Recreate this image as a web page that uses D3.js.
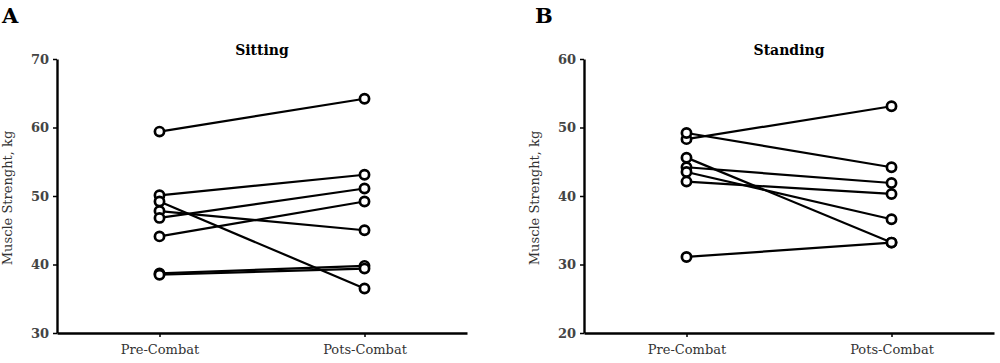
<!DOCTYPE html>
<html>
<head>
<meta charset="utf-8">
<script src="https://cdn.jsdelivr.net/npm/d3@7"></script>
<style>
  body { margin: 0; background: #fff; }
  text { font-family: "DejaVu Serif", serif; }
</style>
</head>
<body>
<div id="chart"></div>
<script>
var phases = ["Pre-Combat", "Pots-Combat"];

// sitting, one pair per subject [pre, post]
var sittingPre  = [59.4, 50.1, 49.2, 47.8, 46.8, 44.1, 38.7, 38.5];
var sittingPost = [64.2, 53.1, 36.5, 45.0, 51.1, 49.2, 39.8, 39.4];
var sittingTicks = [30, 40, 50, 60, 70];

// standing
var standingPre  = [48.3, 49.2, 45.6, 44.2, 43.5, 42.1, 31.1];
var standingPost = [53.1, 44.2, 33.2, 41.9, 36.6, 40.3, 33.2];
var standingTicks = [20, 30, 40, 50, 60];

var svg = d3.select("#chart")
  .append("svg")
    .attr("width", 1000)
    .attr("height", 363);

function draw_panel(opts) {
  var g = svg.append("g");

  var x = d3.scalePoint()
      .domain(phases)
      .range([opts.left, opts.left + 410])
      .padding(0.5);
  var y = d3.scaleLinear()
      .domain(opts.domain)
      .range([333, 59]);

  // y axis
  var ya = g.append("g")
      .attr("transform", "translate(" + opts.left + ",0)")
      .call(d3.axisLeft(y).tickValues(opts.ticks).tickSize(4).tickSizeOuter(0).tickPadding(4));
  ya.select(".domain").attr("stroke", "#000").attr("stroke-width", 2.4);
  ya.selectAll(".tick line").attr("stroke", "#000").attr("stroke-width", 1.5);
  ya.selectAll(".tick text")
      .attr("fill", "#444")
      .style("font-size", "13px")
      .style("font-weight", "bold");

  // x axis
  var xa = g.append("g")
      .attr("transform", "translate(0,333)")
      .call(d3.axisBottom(x).tickSize(4).tickSizeOuter(0).tickPadding(8));
  xa.select(".domain").attr("stroke", "#000").attr("stroke-width", 2.4);
  xa.selectAll(".tick line").attr("stroke", "#000").attr("stroke-width", 1.5);
  xa.selectAll(".tick text")
      .attr("fill", "#333")
      .style("font-size", "13px");

  var pairs = opts.pre.map(function(d, i) { return [d, opts.post[i]]; });

  g.selectAll(".pair")
      .data(pairs)
    .enter().append("line")
      .attr("x1", x(phases[0]))
      .attr("x2", x(phases[1]))
      .attr("y1", function(d) { return y(d[0]); })
      .attr("y2", function(d) { return y(d[1]); })
      .attr("stroke", "#000")
      .attr("stroke-width", 2.2);

  var pts = [];
  pairs.forEach(function(d) {
    pts.push({ p: phases[0], v: d[0] });
    pts.push({ p: phases[1], v: d[1] });
  });
  g.selectAll(".pt")
      .data(pts)
    .enter().append("circle")
      .attr("cx", function(d) { return x(d.p); })
      .attr("cy", function(d) { return y(d.v); })
      .attr("r", 4.6)
      .attr("fill", "#fff")
      .attr("stroke", "#000")
      .attr("stroke-width", 2.7);

  g.append("text")
      .attr("x", opts.left + 205)
      .attr("y", 55)
      .attr("text-anchor", "middle")
      .style("font-size", "14px")
      .style("font-weight", "bold")
      .text(opts.title);

  g.append("text")
      .attr("transform", "translate(" + (opts.left - 45) + ",198) rotate(-90)")
      .attr("text-anchor", "middle")
      .attr("fill", "#333")
      .style("font-size", "13px")
      .text("Muscle Strenght, kg");

  g.append("text")
      .attr("x", opts.letterX)
      .attr("y", 23)
      .style("font-size", "21px")
      .style("font-weight", "bold")
      .text(opts.letter);
}

draw_panel({ left: 57, domain: [30, 70], ticks: sittingTicks, pre: sittingPre, post: sittingPost, title: "Sitting", letter: "A", letterX: 2 });
draw_panel({ left: 584, domain: [20, 60], ticks: standingTicks, pre: standingPre, post: standingPost, title: "Standing", letter: "B", letterX: 535 });
</script>
</body>
</html>
